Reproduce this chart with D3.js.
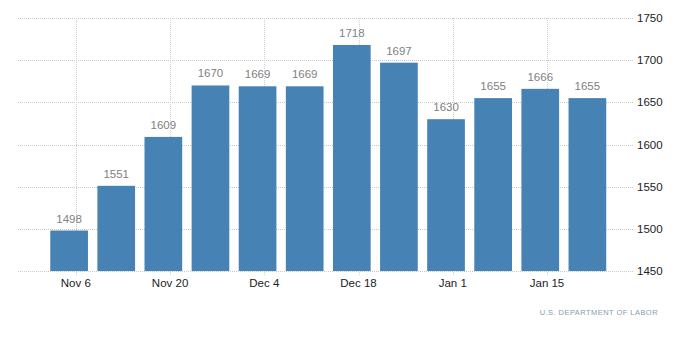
<!DOCTYPE html>
<html>
<head>
<meta charset="utf-8">
<script src="https://cdn.jsdelivr.net/npm/d3@7"></script>
<style>
  html, body { margin: 0; padding: 0; background: #fff; }
  svg { display: block; font-family: "Liberation Sans", Arial, sans-serif; }
</style>
</head>
<body>
<svg id="chart" width="700" height="358"></svg>
<script>
const dates = ["2016-11-05","2016-11-12","2016-11-19","2016-11-26","2016-12-03","2016-12-10",
               "2016-12-17","2016-12-24","2016-12-31","2017-01-07","2017-01-14","2017-01-21"];
const values = [1498, 1551, 1609, 1670, 1669, 1669, 1718, 1697, 1630, 1655, 1666, 1655];
const yTicks = [1450, 1500, 1550, 1600, 1650, 1700, 1750];
const xTickDates = ["2016-11-06","2016-11-20","2016-12-04","2016-12-18","2017-01-01","2017-01-15"];
const xTickLabels = ["Nov 6","Nov 20","Dec 4","Dec 18","Jan 1","Jan 15"];
const source = "U.S. DEPARTMENT OF LABOR";

(function () {
const parse = d3.utcParse("%Y-%m-%d");
const data = dates.map((d, i) => ({ date: parse(d), value: values[i] }));

const svg = d3.select("#chart");
const pLeft = 18, pRight = 634, pTop = 18, pBottom = 271;

const x = d3.scaleUtc()
  .domain([parse("2016-10-29"), parse("2017-01-28")])
  .range([22, 634.5]);
const y = d3.scaleLinear().domain([1450, 1750]).range([pBottom, pTop]);

const barW = (x(parse("2016-11-12")) - x(parse("2016-11-05"))) * 0.8;

// horizontal grid
svg.append("g").selectAll("line").data(yTicks).join("line")
  .attr("x1", pLeft).attr("x2", pRight)
  .attr("y1", d => Math.round(y(d)) + 0.5).attr("y2", d => Math.round(y(d)) + 0.5)
  .attr("stroke", "#c8c8c8").attr("stroke-dasharray", "1,1");

// vertical grid
const xt = xTickDates.map(parse);
svg.append("g").selectAll("line").data(xt).join("line")
  .attr("x1", d => Math.round(x(d)) + 0.5).attr("x2", d => Math.round(x(d)) + 0.5)
  .attr("y1", pTop).attr("y2", pBottom + 5)
  .attr("stroke", "#d0d0d0").attr("stroke-dasharray", "1,1");

// bars
svg.append("g").selectAll("rect").data(data).join("rect")
  .attr("x", d => x(d.date) - barW / 2)
  .attr("width", barW)
  .attr("y", d => y(d.value))
  .attr("height", d => pBottom - y(d.value))
  .attr("fill", "#4682b4");

// value labels
svg.append("g").selectAll("text").data(data).join("text")
  .attr("x", d => x(d.date))
  .attr("y", d => y(d.value) - 8)
  .attr("text-anchor", "middle")
  .attr("font-size", "11.5px")
  .attr("fill", "#7f7f7f")
  .text(d => d.value);

// y axis labels (right)
svg.append("g").selectAll("text").data(yTicks).join("text")
  .attr("x", 637)
  .attr("y", d => y(d) + 4)
  .attr("font-size", "11.5px")
  .attr("fill", "#222")
  .text(d => d);

// x axis labels
svg.append("g").selectAll("text").data(xt).join("text")
  .attr("x", d => x(d))
  .attr("y", 287)
  .attr("text-anchor", "middle")
  .attr("font-size", "11.5px")
  .attr("fill", "#222")
  .text((d, i) => xTickLabels[i]);

// source
svg.append("text")
  .attr("x", 658).attr("y", 315)
  .attr("text-anchor", "end")
  .attr("font-size", "7.5px")
  .attr("letter-spacing", "0.45px")
  .attr("fill", "#8a9bb0")
  .text(source);
})();
</script>
</body>
</html>
